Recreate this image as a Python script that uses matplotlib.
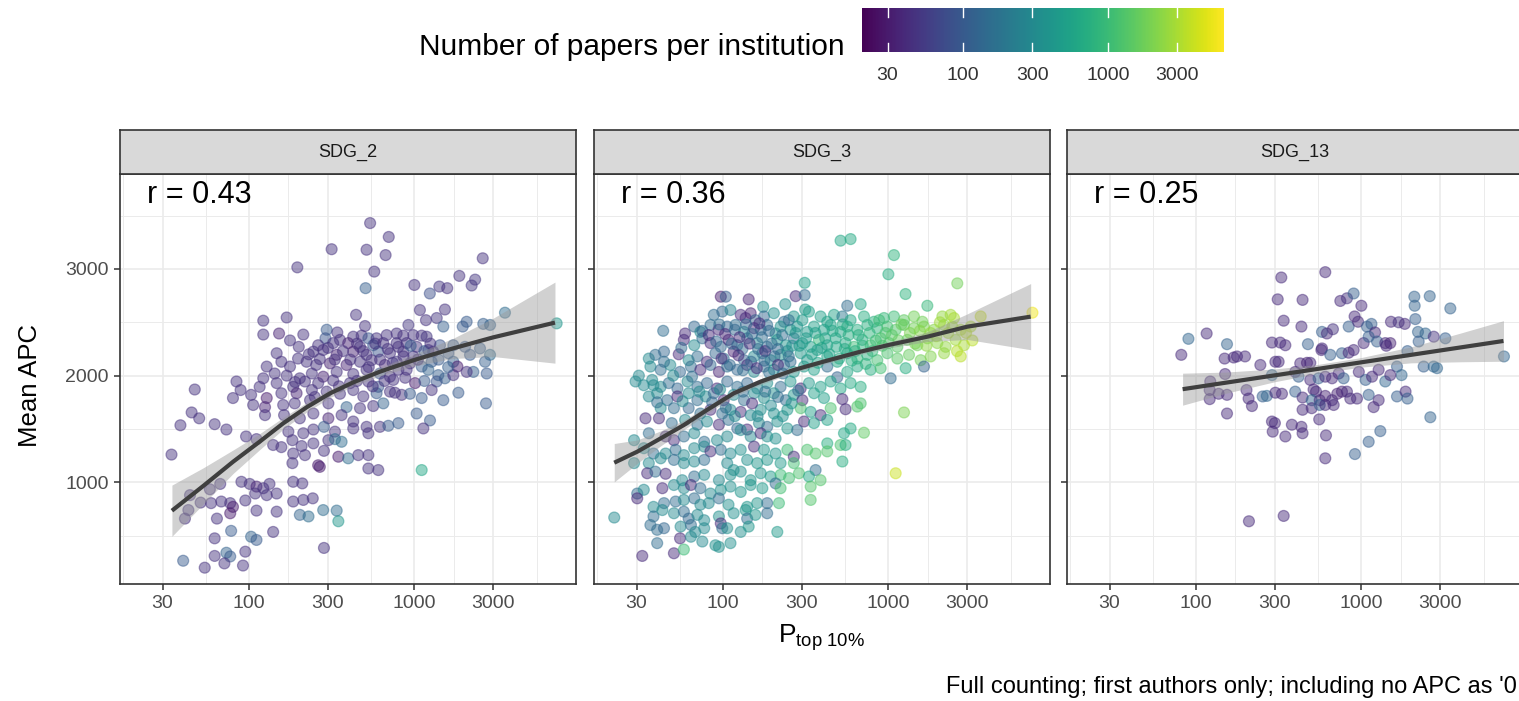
import numpy as np
import matplotlib
matplotlib.use("Agg")
import matplotlib.pyplot as plt
from matplotlib.colors import LogNorm
from matplotlib.cm import ScalarMappable
import matplotlib.ticker as mticker

plt.rcParams['font.family'] = ['Liberation Sans', 'DejaVu Sans']
plt.rcParams['mathtext.fontset'] = 'custom'
plt.rcParams['mathtext.rm'] = 'Liberation Sans'
plt.rcParams['mathtext.it'] = 'Liberation Sans'

# ---------------- data ----------------
facets = ["SDG_2", "SDG_3", "SDG_13"]
r_labels = ["r = 0.43", "r = 0.36", "r = 0.25"]
x_ticks = [30, 100, 300, 1000, 3000]
x_minor = [17.3, 54.8, 173.2, 547.7, 1732, 5477]
y_ticks = [1000, 2000, 3000]
y_minor = [500, 1500, 2500, 3500]
cbar_ticks = [30, 100, 300, 1000, 3000]
n_limits = [20, 6300]
caption = "Full counting; first authors only; including no APC as '0"

# (P_top10%, mean APC, number of papers)
sdg2_points = [
    (540, 3430, 45), (700, 3300, 45), (316, 3185, 45), (514, 3180, 45), (670, 3130, 45),
    (2590, 3100, 45), (196, 3015, 45), (572, 2975, 45), (1870, 2935, 45), (2330, 2900, 50),
    (2220, 2845, 50), (1000, 2850, 45), (507, 2820, 110), (1240, 2770, 80), (1415, 2835, 50),
    (1580, 2820, 45), (1080, 2615, 45), (1530, 2620, 45), (1175, 2520, 45), (1365, 2540, 50),
    (444, 2570, 45), (3530, 2590, 150), (122, 2515, 45), (169, 2545, 45), (2070, 2505, 100),
    (1960, 2460, 100), (2610, 2485, 110), (2870, 2475, 120), (503, 2465, 45), (920, 2475, 50),
    (1496, 2460, 110), (295, 2430, 100), (342, 2405, 45), (7250, 2490, 400), (122, 2385, 45),
    (152, 2395, 35), (213, 2385, 45), (177, 2330, 45), (290, 2350, 90), (355, 2335, 45),
    (427, 2365, 45), (480, 2375, 45), (527, 2350, 90), (591, 2350, 45), (680, 2380, 45),
    (781, 2395, 45), (857, 2375, 45), (985, 2380, 45), (1107, 2375, 45), (1186, 2365, 50),
    (262, 2285, 45), (323, 2305, 45), (398, 2305, 35), (469, 2270, 45), (564, 2285, 90),
    (649, 2305, 45), (781, 2305, 45), (898, 2305, 45), (1032, 2270, 45), (1215, 2240, 50),
    (1428, 2285, 90), (1720, 2285, 100), (2025, 2270, 100), (2494, 2255, 110), (2867, 2195, 150),
    (147, 2210, 45), (198, 2160, 45), (245, 2225, 45), (281, 2240, 45), (339, 2195, 35),
    (427, 2225, 35), (514, 2195, 45), (605, 2225, 90), (712, 2210, 45), (857, 2225, 45),
    (985, 2180, 50), (1300, 2225, 50), (1605, 2210, 100), (2170, 2195, 100), (128, 2085, 45),
    (157, 2130, 45), (177, 2085, 45), (223, 2130, 45), (268, 2155, 45), (309, 2115, 35),
    (389, 2100, 35), (469, 2130, 45), (551, 2145, 45), (664, 2100, 35), (781, 2130, 50),
    (941, 2115, 45), (1107, 2085, 100), (1272, 2130, 100), (1720, 2130, 110), (2273, 2035, 110),
    (2675, 2130, 110), (2737, 2020, 100), (1820, 2085, 30), (143, 2020, 45), (169, 2000, 45),
    (203, 1975, 45), (240, 2020, 45), (281, 1990, 35), (339, 2035, 45), (427, 2015, 45),
    (514, 2055, 45), (619, 2020, 90), (712, 1990, 45), (898, 2055, 45), (1010, 1930, 30),
    (1214, 2055, 120), (1395, 2005, 110), (1530, 1975, 110), (2071, 2035, 45), (122, 1975, 45),
    (84, 1945, 45), (116, 1895, 45), (147, 1930, 45), (185, 1895, 45), (218, 1945, 45),
    (262, 1930, 45), (323, 1955, 45), (408, 1930, 45), (527, 1945, 45), (605, 1895, 90),
    (746, 1960, 45), (800, 2055, 45), (1364, 1945, 90), (1720, 2005, 45), (47, 1870, 45),
    (89, 1865, 45), (80, 1790, 45), (103, 1820, 45), (128, 1790, 30), (157, 1835, 45),
    (194, 1835, 35), (240, 1865, 45), (295, 1850, 45), (355, 1830, 45), (427, 1865, 45),
    (491, 1805, 45), (591, 1835, 100), (712, 1850, 45), (763, 1840, 45), (838, 1820, 45),
    (941, 1830, 100), (1107, 1790, 100), (1272, 1865, 45), (1496, 1770, 100), (1845, 1840, 100),
    (2710, 1740, 100), (106, 1725, 45), (125, 1705, 35), (161, 1725, 45), (189, 1740, 45),
    (234, 1770, 45), (302, 1740, 45), (389, 1705, 120), (469, 1695, 45), (564, 1715, 45),
    (649, 1740, 120), (45, 1655, 45), (50, 1600, 45), (38.5, 1535, 45), (62, 1545, 45),
    (73, 1495, 45), (125, 1630, 45), (163, 1630, 45), (203, 1600, 45), (245, 1645, 45),
    (302, 1600, 35), (363, 1630, 45), (427, 1570, 45), (514, 1520, 45), (619, 1520, 45),
    (696, 1530, 100), (800, 1555, 100), (1032, 1645, 100), (1243, 1580, 100), (1133, 1505, 45),
    (173, 1475, 45), (213, 1460, 45), (245, 1495, 45), (284, 1520, 100), (331, 1475, 45),
    (427, 1505, 45), (527, 1460, 45), (96, 1430, 45), (111, 1405, 45), (140, 1350, 45),
    (157, 1330, 45), (183, 1395, 45), (208, 1340, 45), (245, 1365, 45), (302, 1395, 45),
    (331, 1405, 150), (363, 1380, 150), (185, 1270, 45), (218, 1255, 45), (284, 1295, 45),
    (347, 1240, 30), (398, 1225, 150), (458, 1255, 45), (527, 1255, 45), (34, 1260, 45),
    (183, 1180, 45), (262, 1160, 30), (268, 1145, 30), (527, 1130, 45), (605, 1115, 45),
    (1107, 1115, 600), (90, 1005, 45), (101, 985, 45), (111, 960, 35), (133, 985, 45),
    (122, 945, 45), (185, 1005, 45), (210, 990, 45), (67, 985, 45), (58, 935, 45),
    (44, 880, 45), (51, 810, 45), (59, 805, 45), (68, 820, 45), (77, 805, 45),
    (80, 770, 30), (95, 830, 45), (109, 895, 45), (128, 880, 45), (147, 895, 45),
    (185, 820, 45), (213, 835, 45), (243, 850, 45), (43, 740, 45), (41, 660, 45),
    (64, 660, 45), (77, 710, 30), (111, 735, 45), (147, 725, 45), (203, 695, 120),
    (229, 680, 150), (281, 740, 150), (339, 735, 150), (347, 635, 400), (78, 545, 100),
    (103, 490, 120), (111, 460, 100), (140, 535, 45), (62, 475, 45), (95, 350, 45),
    (73, 340, 120), (62, 310, 45), (77, 305, 100), (284, 385, 45), (40, 265, 100),
    (54, 200, 45), (71, 240, 45), (92, 220, 45),
    (200, 2270, 45), (230, 2200, 45), (255, 2100, 45), (300, 2260, 45), (330, 2150, 45),
    (370, 2230, 45), (410, 2150, 45), (450, 2300, 45), (490, 2230, 45), (530, 2080, 45),
    (580, 2300, 45), (620, 2150, 45), (690, 2250, 45), (740, 2120, 50), (800, 2270, 45),
    (860, 2180, 45), (950, 2280, 100), (1050, 2150, 45), (1150, 2230, 100), (1250, 2300, 45),
    (1400, 2150, 100), (1600, 2080, 110), (190, 1940, 45), (250, 1800, 45), (350, 1900, 45),
    (450, 1950, 45), (560, 1900, 45), (660, 1950, 45), (880, 1980, 45), (1150, 1950, 100),
]

sdg3_points = [
    (514, 3265, 600), (591, 3280, 650), (1081, 3130, 800), (1000, 2950, 700), (312, 2870, 500),
    (2610, 2865, 1800), (1270, 2765, 800), (1720, 2655, 900),
    (97, 2740, 30), (104, 2740, 110), (143, 2715, 35), (175, 2645, 350), (238, 2670, 350),
    (275, 2745, 40), (312, 2755, 150), (314, 2620, 450), (564, 2655, 150), (680, 2670, 600),
    (88, 2570, 150), (99, 2600, 130), (111, 2615, 250), (128, 2570, 40), (137, 2540, 40),
    (147, 2585, 35), (157, 2520, 120), (177, 2555, 130), (203, 2585, 350), (234, 2505, 150),
    (268, 2555, 400), (302, 2520, 450), (331, 2600, 500), (389, 2555, 500), (427, 2505, 550),
    (469, 2570, 550), (527, 2555, 200), (591, 2520, 600), (712, 2555, 700), (818, 2505, 750),
    (941, 2540, 900), (1081, 2555, 1000), (1243, 2520, 1500), (1428, 2555, 1800), (1605, 2505, 1800),
    (2120, 2555, 2500), (2380, 2570, 2800), (2494, 2540, 3000), (3616, 2555, 4000), (7430, 2590, 5500),
    (43.5, 2420, 150), (59, 2395, 40), (67, 2460, 130), (73, 2410, 300), (84, 2475, 150),
    (94, 2430, 40), (106, 2460, 130), (119, 2475, 150), (134, 2410, 300), (154, 2445, 40),
    (169, 2430, 130), (185, 2475, 150), (208, 2395, 350), (223, 2460, 350), (256, 2430, 400),
    (281, 2460, 400), (323, 2410, 450), (355, 2460, 500), (408, 2430, 500), (448, 2475, 550),
    (514, 2410, 600), (564, 2460, 650), (649, 2430, 700), (746, 2475, 750), (857, 2445, 800),
    (985, 2460, 1100), (1107, 2430, 1300), (1243, 2475, 1500), (1428, 2445, 1800), (1642, 2460, 2000),
    (1887, 2430, 2200), (2170, 2475, 2500), (2437, 2460, 2800), (2737, 2430, 3000), (3146, 2460, 3200),
    (58, 2335, 40), (67, 2285, 300), (75, 2350, 150), (84, 2305, 40), (97, 2270, 130),
    (108, 2335, 35), (122, 2285, 130), (140, 2350, 150), (161, 2305, 300), (185, 2270, 130),
    (213, 2335, 350), (240, 2285, 400), (268, 2350, 150), (302, 2305, 450), (339, 2270, 500),
    (380, 2335, 900), (427, 2285, 550), (480, 2350, 600), (551, 2305, 650), (619, 2270, 1000),
    (696, 2335, 700), (781, 2285, 1100), (898, 2350, 1200), (1010, 2305, 1300), (1133, 2270, 1400),
    (1302, 2335, 1600), (1496, 2285, 1800), (1720, 2350, 2000), (1977, 2305, 2300), (2220, 2270, 2500),
    (2550, 2335, 2800), (2867, 2285, 3000), (3220, 2330, 3500),
    (35.6, 2160, 300), (39, 2195, 150), (44, 2225, 130), (54, 2200, 40), (62, 2145, 300),
    (70, 2180, 150), (80, 2130, 40), (90, 2210, 130), (101, 2160, 150), (116, 2225, 35),
    (134, 2145, 130), (154, 2180, 300), (173, 2210, 150), (194, 2145, 350), (223, 2195, 400),
    (256, 2130, 150), (295, 2210, 450), (323, 2145, 450), (372, 2240, 500), (427, 2180, 550),
    (491, 2130, 600), (564, 2210, 650), (649, 2160, 900), (746, 2195, 750), (857, 2145, 1100),
    (985, 2210, 1200), (1133, 2160, 1400), (1333, 2195, 1600), (1568, 2145, 1800), (1802, 2180, 2100),
    (2170, 2210, 2500), (2737, 2180, 3500),
    (36.4, 2085, 300), (42, 2055, 150), (48, 2100, 300), (55, 2035, 130), (64, 2085, 150),
    (73, 2055, 40), (84, 2100, 130), (94.5, 2035, 35), (106, 2085, 150), (122, 2055, 130),
    (140, 2100, 40), (154, 2035, 300), (177, 2085, 150), (203, 2055, 350), (234, 2100, 150),
    (268, 2035, 400), (309, 2085, 450), (355, 2055, 500), (427, 2085, 150), (491, 1985, 120),
    (564, 2035, 600), (649, 2085, 650), (781, 2055, 700), (898, 2070, 1100), (1032, 1975, 150),
    (1272, 2070, 700), (1642, 2085, 120),
    (29.6, 1945, 300), (33.2, 1910, 300), (37.3, 1960, 300), (42, 1895, 300), (47, 1930, 150),
    (53, 1880, 130), (61, 1945, 300), (70, 1895, 150), (80, 1930, 130), (92, 1880, 40),
    (106, 1945, 130), (122, 1895, 150), (140, 1930, 130), (161, 1880, 300), (185, 1930, 350),
    (223, 1895, 150), (256, 1945, 400), (295, 1880, 40), (331, 1930, 450), (389, 1895, 500),
    (448, 1945, 550), (514, 1880, 600), (591, 1930, 650), (680, 1895, 700),
    (35.6, 1805, 300), (40, 1835, 300), (46, 1770, 150), (53, 1805, 40), (62, 1835, 300),
    (70, 1770, 150), (78.5, 1805, 300), (88, 1835, 130), (101, 1770, 40), (116, 1820, 300),
    (134, 1770, 150), (154, 1835, 300), (177, 1790, 350), (203, 1835, 350), (240, 1770, 150),
    (268, 1820, 400), (302, 1770, 40), (355, 1835, 500), (408, 1790, 500), (527, 1780, 40),
    (680, 1740, 1200),
    (42, 1695, 300), (50.5, 1695, 150), (62, 1695, 130), (73, 1645, 150), (84, 1680, 40),
    (99, 1645, 150), (111, 1680, 300), (128, 1660, 40), (147, 1630, 300), (169, 1680, 350),
    (203, 1645, 350), (245, 1680, 400), (295, 1695, 1200), (339, 1660, 500), (389, 1630, 40),
    (448, 1695, 1200), (551, 1685, 40), (649, 1710, 1300), (1243, 1655, 2000),
    (34, 1600, 40), (41, 1600, 40), (49, 1555, 150), (59, 1585, 300), (70, 1540, 150),
    (80, 1570, 300), (94.5, 1540, 40), (108, 1585, 150), (122, 1505, 130), (140, 1495, 40),
    (165, 1555, 300), (185, 1520, 150), (213, 1570, 350), (245, 1505, 400), (281, 1490, 150),
    (309, 1570, 40), (355, 1555, 500), (427, 1585, 550), (539, 1460, 600), (591, 1505, 650),
    (712, 1465, 1500),
    (29, 1395, 300), (35.6, 1460, 150), (45, 1430, 40), (50.5, 1395, 40), (58, 1430, 150),
    (67, 1460, 300), (77, 1380, 150), (92, 1395, 300), (106, 1430, 300), (128, 1490, 300),
    (147, 1430, 300), (169, 1460, 40), (185, 1430, 350), (208, 1410, 350), (427, 1365, 700),
    (514, 1350, 1200), (551, 1350, 700),
    (33.2, 1320, 300), (38, 1270, 150), (45, 1270, 300), (51.7, 1305, 150), (58, 1255, 300),
    (67, 1320, 300), (77, 1335, 300), (84, 1290, 40), (97, 1305, 150), (111, 1270, 300),
    (128, 1305, 350), (154, 1335, 40), (177, 1305, 400), (208, 1270, 400), (245, 1305, 1000),
    (268, 1240, 40), (323, 1305, 1200), (363, 1270, 1300), (427, 1290, 1300),
    (29, 1180, 300), (35.6, 1180, 300), (42, 1225, 300), (50.5, 1210, 150), (58, 1180, 300),
    (67, 1195, 300), (77, 1210, 150), (106, 1180, 300), (116, 1115, 350), (140, 1210, 350),
    (161, 1180, 400), (185, 1210, 400), (223, 1180, 450), (268, 1180, 1100), (363, 1115, 150),
    (527, 1195, 700), (1107, 1085, 4000),
    (34.8, 1085, 40), (39, 1100, 150), (45, 1080, 40), (56.7, 1020, 300), (67, 1055, 150),
    (77, 1070, 300), (94.5, 1020, 300), (111, 1070, 350), (128, 1100, 350), (147, 1020, 400),
    (169, 1085, 400), (194, 1055, 450), (223, 1070, 1000), (251, 1040, 1100), (288, 1085, 1200),
    (331, 1055, 600), (389, 1020, 1300),
    (30.3, 895, 150), (33.2, 930, 300), (43, 945, 40), (50.5, 975, 300), (58, 945, 300),
    (64, 975, 40), (73, 945, 150), (84, 895, 300), (97, 930, 350), (111, 960, 350),
    (128, 910, 400), (147, 975, 400), (173, 945, 450), (208, 990, 150), (223, 945, 1100),
    (339, 960, 1300),
    (30.3, 850, 40), (38, 770, 300), (44, 805, 150), (51.7, 820, 150), (58, 835, 300),
    (67, 850, 150), (73, 790, 300), (82, 805, 300), (94.5, 850, 150), (108, 790, 350),
    (140, 770, 400), (161, 805, 400), (185, 805, 150), (218, 805, 1000), (339, 835, 1300),
    (22, 670, 300), (38, 680, 150), (43, 740, 300), (50.5, 710, 300), (58, 725, 150),
    (62, 660, 130), (70, 695, 300), (77, 645, 300), (94.5, 680, 350), (116, 710, 350),
    (137, 740, 400), (140, 660, 150), (157, 695, 400), (185, 710, 150),
    (36.4, 600, 150), (40, 555, 150), (44, 570, 130), (55.4, 585, 300), (64, 600, 150),
    (68, 535, 300), (77, 570, 300), (97, 615, 40), (99, 570, 150), (106, 570, 350),
    (128, 535, 350), (143, 585, 400), (213, 535, 450),
    (40, 430, 150), (55, 475, 40), (64, 490, 300), (75, 445, 300), (90, 410, 350),
    (111, 430, 350), (50.5, 335, 40), (58, 370, 1000), (94.5, 395, 350), (32.5, 310, 40),
    (75, 2420, 130), (82, 2380, 40), (91, 2320, 130), (95, 2480, 150), (103, 2390, 40),
    (113, 2300, 130), (118, 2430, 130), (126, 2360, 40), (131, 2250, 150), (138, 2480, 130),
    (145, 2300, 40), (150, 2390, 130), (163, 2250, 130), (166, 2490, 40), (172, 2360, 150),
    (180, 2230, 40), (190, 2420, 130), (197, 2300, 150), (215, 2250, 130), (228, 2380, 150),
    (245, 2230, 300), (250, 2520, 150), (262, 2280, 350), (275, 2400, 400),
    (98, 2160, 40), (110, 2100, 130), (124, 2190, 40), (132, 2050, 150), (148, 2130, 130),
    (160, 2070, 40), (178, 2140, 130), (190, 2030, 150), (205, 2180, 130), (215, 2100, 40),
    (230, 2020, 150), (250, 2180, 150),
    (290, 2280, 450), (318, 2350, 450), (345, 2200, 500), (362, 2400, 500), (375, 2120, 550),
    (395, 2260, 500), (415, 2350, 550), (440, 2200, 550), (460, 2420, 600), (485, 2270, 600),
    (505, 2160, 650), (530, 2480, 650), (545, 2250, 650), (575, 2380, 700), (600, 2140, 700),
    (630, 2230, 700), (660, 2380, 750), (700, 2280, 800), (730, 2110, 800), (770, 2400, 850),
    (800, 2230, 900), (840, 2330, 1000), (880, 2520, 1000), (920, 2280, 1200), (960, 2400, 1200),
    (1050, 2380, 1400), (1150, 2330, 1600), (1200, 2480, 1700), (1350, 2400, 2000), (1450, 2300, 2000),
    (1550, 2420, 2200), (1700, 2280, 2400), (1800, 2400, 2500), (1950, 2370, 2700), (2050, 2500, 2800),
    (2300, 2400, 3000), (2600, 2230, 3300), (2950, 2400, 3500),
    (31, 2000, 300), (38, 1910, 300), (44, 2130, 150), (50, 2000, 300), (57, 1760, 300),
    (65, 1990, 150), (72, 1850, 300), (40, 1750, 150), (56, 2260, 150),
    (86, 1750, 130), (96, 1870, 300), (104, 1700, 150), (118, 1620, 300), (132, 1850, 150),
    (150, 1740, 40), (162, 1620, 300), (180, 1850, 150), (195, 1720, 300), (215, 1800, 150),
    (230, 1620, 350), (260, 1740, 400), (285, 1860, 150),
]

sdg13_points = [
    (605, 2970, 40), (328, 2920, 40), (312, 2715, 40), (441, 2710, 40), (746, 2700, 40),
    (818, 2725, 45), (898, 2770, 110), (1000, 2655, 40), (2090, 2740, 120), (2590, 2745, 120),
    (2100, 2655, 120), (3450, 2630, 120), (339, 2515, 40), (434, 2460, 40), (578, 2410, 110),
    (619, 2395, 40), (673, 2435, 45), (838, 2460, 110), (910, 2555, 40), (955, 2505, 40),
    (1081, 2460, 110), (1150, 2485, 110), (1210, 2405, 40), (1510, 2505, 40), (1680, 2500, 45),
    (1830, 2485, 40), (2120, 2530, 110), (2200, 2410, 120), (2440, 2395, 130), (2740, 2365, 45),
    (3220, 2350, 110), (90, 2345, 130), (81.5, 2195, 40), (116, 2395, 40), (154, 2295, 120),
    (149, 2160, 40), (169, 2170, 40), (177, 2180, 40), (198, 2180, 40), (150, 2015, 40),
    (245, 2100, 40), (288, 2310, 40), (323, 2310, 40), (347, 2285, 40), (302, 2130, 40),
    (316, 2130, 40), (475, 2295, 110), (578, 2255, 40), (573, 2240, 40), (427, 2115, 40),
    (469, 2120, 35), (491, 2120, 40), (649, 2195, 110), (763, 2210, 110), (838, 2215, 40),
    (898, 2240, 40), (1032, 2305, 40), (1107, 2365, 110), (1243, 2320, 110), (1395, 2305, 40),
    (1496, 2305, 35), (1415, 2280, 40), (1900, 2230, 110), (2220, 2320, 110), (2380, 2085, 110),
    (2737, 2085, 130), (2867, 2070, 130), (7280, 2180, 130), (1642, 2085, 110), (1750, 2005, 130),
    (1272, 2055, 40), (1395, 1945, 130), (1496, 2005, 40), (965, 2035, 40), (1060, 1960, 110),
    (1160, 1990, 40), (729, 2020, 40), (665, 1975, 40), (781, 1975, 110), (491, 1960, 40),
    (551, 1975, 110), (605, 1990, 40), (398, 2035, 40), (417, 1990, 110), (288, 2005, 130),
    (122, 1945, 40), (121, 1865, 40), (137, 1830, 40), (154, 1820, 40), (121, 1780, 40),
    (154, 1645, 40), (202, 1865, 40), (208, 1785, 40), (218, 1715, 40), (253, 1805, 110),
    (268, 1810, 130), (302, 1840, 40), (331, 1830, 40), (398, 1850, 110), (441, 1795, 40),
    (514, 1870, 40), (532, 1850, 40), (501, 1770, 130), (560, 1770, 40), (605, 1810, 35),
    (665, 1770, 40), (715, 1830, 35), (763, 1850, 35), (818, 1850, 40), (857, 1785, 40),
    (941, 1785, 40), (1107, 1820, 110), (1272, 1770, 40), (1642, 1805, 110), (1850, 1850, 40),
    (1900, 1785, 110), (1186, 1705, 40), (441, 1680, 40), (501, 1695, 40), (560, 1725, 110),
    (605, 1725, 40), (680, 1725, 40), (556, 1590, 40), (288, 1570, 40), (300, 1555, 40),
    (380, 1540, 40), (434, 1520, 40), (291, 1475, 40), (347, 1430, 40), (441, 1460, 40),
    (611, 1440, 40), (1302, 1480, 110), (1107, 1380, 110), (914, 1265, 110), (2612, 1610, 120),
    (605, 1225, 40), (209, 635, 40), (339, 685, 40),
]

# smoothed trend and half-width of the grey band
sdg2_fit_x = [34.2, 52.9, 80.3, 116, 161, 223, 309, 427, 619, 1000, 1720, 3000, 7080]
sdg2_fit_y = [734, 966, 1194, 1381, 1553, 1703, 1834, 1937, 2037, 2147, 2256, 2359, 2497]
sdg2_fit_se = [240, 170, 110, 75, 55, 45, 40, 35, 40, 55, 95, 180, 380]

sdg3_fit_x = [22, 30.3, 42, 58, 80, 116, 169, 268, 427, 680, 1000, 1720, 3000, 7250]
sdg3_fit_y = [1184, 1287, 1412, 1537, 1678, 1834, 1944, 2053, 2141, 2225, 2287, 2365, 2459, 2553]
sdg3_fit_se = [180, 110, 70, 45, 35, 30, 28, 25, 25, 25, 28, 45, 120, 310]

sdg13_fit_x = [83, 150, 300, 550, 1000, 2000, 4000, 7230]
sdg13_fit_y = [1873, 1933, 2003, 2064, 2125, 2195, 2265, 2325]
sdg13_fit_se = [150, 100, 60, 42, 45, 75, 135, 190]

panel_points = [sdg2_points, sdg3_points, sdg13_points]
panel_fits = [(sdg2_fit_x, sdg2_fit_y, sdg2_fit_se),
              (sdg3_fit_x, sdg3_fit_y, sdg3_fit_se),
              (sdg13_fit_x, sdg13_fit_y, sdg13_fit_se)]

# ---------------- figure ----------------
W, H = 1519, 701
fig = plt.figure(figsize=(W / 100, H / 100), dpi=100)
cmap = plt.get_cmap('viridis')
norm = LogNorm(vmin=n_limits[0], vmax=n_limits[1])

panel_left_px = [120, 594, 1067]
panel_w_px = 456
panel_top_px, panel_bot_px = 174, 584
strip_top_px = 130

dark = '#333333'
grid_c = '#EBEBEB'

for i, name in enumerate(facets):
    lx = panel_left_px[i] / W
    ax = fig.add_axes([lx, 1 - panel_bot_px / H, panel_w_px / W,
                       (panel_bot_px - panel_top_px) / H])
    ax.set_xscale('log')
    ax.set_xlim(16.6, 9490)
    ax.set_ylim(47, 3890)

    ax.xaxis.set_major_locator(mticker.FixedLocator(x_ticks))
    ax.xaxis.set_major_formatter(mticker.FixedFormatter([str(t) for t in x_ticks]))
    ax.xaxis.set_minor_locator(mticker.FixedLocator(x_minor))
    ax.xaxis.set_minor_formatter(mticker.NullFormatter())
    ax.yaxis.set_major_locator(mticker.FixedLocator(y_ticks))
    ax.yaxis.set_minor_locator(mticker.FixedLocator(y_minor))
    ax.yaxis.set_minor_formatter(mticker.NullFormatter())
    ax.grid(which='major', color=grid_c, lw=1.2, zorder=0)
    ax.grid(which='minor', color=grid_c, lw=0.7, zorder=0)
    ax.set_axisbelow(True)
    ax.tick_params(which='minor', length=0)
    ax.tick_params(which='major', length=4, width=1.1, color=dark,
                   labelsize=14, labelcolor='#4D4D4D', pad=4)
    if i == 0:
        ax.set_yticklabels([str(t) for t in y_ticks])
    else:
        ax.tick_params(axis='y', labelleft=False)
    for sp in ax.spines.values():
        sp.set_color(dark)
        sp.set_linewidth(1.2)

    pts = panel_points[i]
    px = [p[0] for p in pts]
    py = [p[1] for p in pts]
    pn = [p[2] for p in pts]
    cols = cmap(norm(pn))
    ax.scatter(px, py, s=62, c=cols, alpha=0.48, edgecolors=cols,
               linewidths=0.9, zorder=2)

    fx, fy, fse = panel_fits[i]
    fx = np.array(fx); fy = np.array(fy); fse = np.array(fse)
    ax.fill_between(fx, fy - fse, fy + fse, color='#999999', alpha=0.45,
                    lw=0, zorder=3)
    ax.plot(fx, fy, color='#3F3F3F', lw=3.0, zorder=4, solid_capstyle='butt')

    ax.text(0.059, 0.949, r_labels[i], transform=ax.transAxes, ha='left',
            va='center', fontsize=22, color='black', zorder=5)

    # facet strip
    sax = fig.add_axes([lx, 1 - panel_top_px / H, panel_w_px / W,
                        (panel_top_px - strip_top_px) / H])
    sax.set_facecolor('#D9D9D9')
    sax.set_xticks([]); sax.set_yticks([])
    for sp in sax.spines.values():
        sp.set_color(dark)
        sp.set_linewidth(1.2)
    sax.text(0.5, 0.5, name, transform=sax.transAxes, ha='center', va='center',
             fontsize=13, color='#1A1A1A')

# axis titles
fig.text(30 / W, 1 - 385 / H, 'Mean APC', rotation=90, ha='center', va='center',
         fontsize=18.5, color='black')
fig.text(821 / W, 1 - 638 / H, r'P$_{\mathrm{top\ 10\%}}$', ha='center', va='center',
         fontsize=19, color='black')
fig.text(1517 / W, 1 - 687 / H, caption,
         ha='right', va='center', fontsize=17, color='black')

# colour bar
cax = fig.add_axes([862 / W, 1 - 52 / H, 362 / W, 44 / H])
sm = ScalarMappable(norm=norm, cmap=cmap)
cb = fig.colorbar(sm, cax=cax, orientation='horizontal')
cb.outline.set_visible(False)
cb.set_ticks(cbar_ticks)
cb.set_ticklabels([str(t) for t in cbar_ticks])
cax.xaxis.set_minor_locator(mticker.NullLocator())
cax.tick_params(length=0, labelsize=14, labelcolor='#333333', pad=11)
for t in cbar_ticks:
    cax.axvline(t, 0, 0.2, color='white', lw=1.0)
    cax.axvline(t, 0.8, 1, color='white', lw=1.0)
fig.text(845 / W, 1 - 47 / H, 'Number of papers per institution', ha='right',
         va='center', fontsize=21.5, color='black')

fig.savefig('out.png', dpi=100)
